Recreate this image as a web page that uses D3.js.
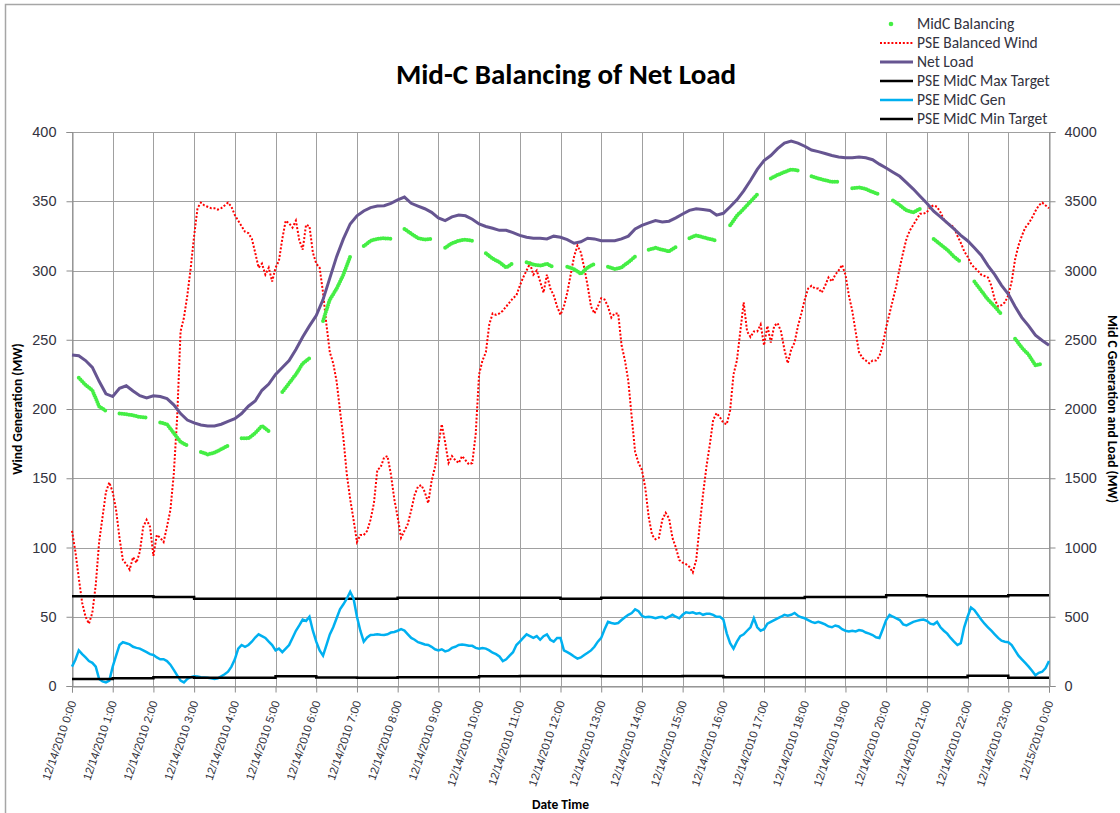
<!DOCTYPE html>
<html>
<head>
<meta charset="utf-8">
<script src="https://cdn.jsdelivr.net/npm/d3@7"></script>
<style>
  body { margin: 0; background: #fff; }
  svg { display: block; font-family: Carlito, Calibri, Lato, sans-serif; }
</style>
</head>
<body>
<div id="chart"></div>
<script>
// series names, same order as the legend
var seriesNames = ["MidC Balancing", "PSE Balanced Wind", "Net Load",
  "PSE MidC Max Target", "PSE MidC Gen", "PSE MidC Min Target"];

// PSE Balanced Wind (MW, left axis), every 5 minutes from 12/14/2010 0:00
var windMW = [
  112, 97, 78, 60, 50, 45, 53, 73, 104, 122, 140, 147,
  140, 127, 107, 91, 88, 84, 93, 89, 97, 115, 120, 115,
  94, 109, 107, 104, 115, 127, 153, 194, 256, 266, 282, 302,
  325, 345, 349, 347, 346, 345, 345, 344, 345, 347, 349, 346,
  340, 336, 332, 328, 327, 323, 313, 302, 305, 297, 302, 292,
  302, 307, 323, 336, 334, 331, 336, 322, 315, 333, 332, 313,
  305, 302, 284, 261, 241, 233, 220, 199, 179, 153, 135, 120,
  104, 109, 109, 112, 120, 132, 156, 158, 165, 166, 153, 135,
  122, 107, 112, 117, 127, 138, 144, 145, 140, 132, 148, 158,
  174, 189, 176, 161, 166, 163, 161, 166, 163, 160, 161, 182,
  225, 235, 241, 261, 269, 268, 269, 271, 274, 277, 280, 282,
  289, 295, 300, 305, 297, 300, 292, 284, 297, 287, 282, 274,
  268, 274, 284, 297, 310, 318, 313, 302, 289, 274, 269, 274,
  280, 279, 274, 266, 269, 269, 246, 235, 220, 194, 169, 161,
  156, 143, 122, 109, 106, 107, 120, 125, 121, 107, 100, 91,
  89, 88, 86, 82, 91, 115, 138, 158, 174, 192, 197, 194,
  190, 189, 199, 225, 235, 256, 277, 256, 252, 256, 256, 261,
  246, 260, 248, 260, 262, 256, 243, 233, 243, 248, 260, 269,
  279, 287, 289, 287, 287, 284, 289, 295, 292, 297, 300, 304,
  297, 282, 271, 256, 241, 237, 235, 233, 235, 235, 238, 246,
  259, 269, 279, 289, 302, 313, 323, 329, 333, 337, 341, 341,
  342, 346, 347, 346, 342, 337, 334, 333, 331, 325, 320, 314,
  310, 305, 302, 300, 297, 296, 295, 289, 279, 274, 275, 277,
  282, 292, 308, 318, 325, 331, 334, 338, 343, 347, 349, 347,
  345
];

// PSE MidC Gen (MW, right axis), every 5 minutes
var midcGen = [
  140, 190, 257, 230, 206, 180, 167, 140, 50, 33, 26, 39,
  140, 219, 296, 316, 309, 300, 283, 275, 270, 257, 244, 230,
  224, 206, 193, 193, 180, 154, 116, 77, 39, 26, 51, 64,
  70, 68, 64, 62, 59, 55, 51, 55, 70, 85, 103, 140,
  193, 270, 296, 283, 296, 320, 350, 373, 360, 347, 320, 296,
  257, 270, 244, 270, 296, 347, 399, 437, 480, 470, 500, 399,
  320, 257, 219, 296, 373, 424, 489, 553, 590, 630, 680, 630,
  500, 399, 320, 350, 368, 370, 373, 370, 368, 373, 386, 390,
  399, 410, 400, 373, 347, 334, 316, 309, 300, 296, 283, 265,
  257, 265, 250, 257, 275, 283, 296, 300, 296, 290, 290, 275,
  270, 275, 270, 257, 240, 230, 213, 180, 193, 219, 244, 296,
  320, 347, 373, 360, 347, 360, 334, 360, 373, 334, 320, 347,
  347, 257, 244, 230, 213, 198, 206, 224, 240, 257, 283, 320,
  347, 410, 463, 455, 450, 455, 476, 496, 514, 527, 553, 540,
  507, 496, 500, 496, 489, 496, 500, 489, 500, 514, 500, 489,
  514, 532, 527, 532, 522, 527, 514, 522, 522, 514, 500, 500,
  480, 380, 309, 270, 320, 360, 373, 399, 424, 489, 424, 399,
  410, 450, 463, 476, 489, 500, 514, 507, 514, 527, 507, 496,
  489, 476, 463, 455, 463, 455, 445, 430, 424, 437, 430, 410,
  399, 394, 399, 394, 404, 399, 386, 378, 368, 352, 347, 410,
  476, 514, 500, 489, 476, 445, 437, 450, 463, 470, 476, 480,
  470, 450, 445, 463, 424, 399, 378, 347, 320, 296, 309, 424,
  500, 566, 548, 514, 480, 450, 424, 399, 373, 347, 327, 320,
  316, 296, 257, 219, 193, 167, 140, 110, 77, 95, 103, 129,
  180
];

// Net Load (MW, right axis), every 10 minutes
var netLoad = [
  2390, 2385, 2350, 2300, 2200, 2110,
  2090, 2150, 2168, 2130, 2096, 2080,
  2096, 2090, 2075, 2030, 1967, 1920,
  1900, 1885, 1878, 1878, 1890, 1910,
  1930, 1967, 2020, 2058, 2135, 2180,
  2250, 2300, 2350, 2430, 2520, 2600,
  2675, 2790, 2945, 3100, 3228, 3336,
  3395, 3430, 3454, 3465, 3468, 3485,
  3510, 3530, 3485, 3465, 3446, 3420,
  3380, 3360, 3387, 3400, 3395, 3370,
  3336, 3318, 3305, 3290, 3290, 3274,
  3254, 3240, 3233, 3233, 3228, 3248,
  3240, 3223, 3197, 3207, 3233, 3228,
  3215, 3215, 3215, 3228, 3248, 3300,
  3326, 3344, 3360, 3350, 3356, 3380,
  3408, 3434, 3446, 3440, 3434, 3400,
  3413, 3460, 3510, 3575, 3650, 3730,
  3794, 3830, 3880, 3920, 3935, 3920,
  3897, 3870, 3858, 3845, 3830, 3820,
  3814, 3814, 3820, 3814, 3800, 3768,
  3740, 3710, 3680, 3634, 3588, 3536,
  3485, 3428, 3387, 3344, 3300, 3254,
  3215, 3164, 3110, 3035, 2970, 2893,
  2830, 2740, 2660, 2600, 2533, 2495,
  2460
];

// MidC Balancing (MW, right axis), every 10 minutes, no value on the hour
var midcBalancing = [
  null, 2225, 2173, 2135, 2019, 1986,
  null, 1968, 1962, 1955, 1942, 1937,
  null, 1903, 1890, 1826, 1762, 1736,
  null, 1690, 1672, 1685, 1710, 1736,
  null, 1788, 1788, 1826, 1878, 1839,
  null, 2122, 2186, 2250, 2328, 2366,
  null, 2636, 2790, 2868, 2970, 3100,
  null, 3176, 3215, 3228, 3233, 3228,
  null, 3300, 3266, 3233, 3223, 3228,
  null, 3164, 3197, 3215, 3223, 3215,
  null, 3125, 3086, 3060, 3022, 3053,
  null, 3060, 3043, 3035, 3048, 3022,
  null, 3027, 3010, 2976, 3022, 3048,
  null, 3027, 3010, 3022, 3060, 3100,
  null, 3150, 3164, 3150, 3138, 3170,
  null, 3233, 3254, 3240, 3228, 3215,
  null, 3326, 3395, 3446, 3498, 3550,
  null, 3665, 3690, 3710, 3730, 3722,
  null, 3680, 3665, 3652, 3640, 3640,
  null, 3593, 3600, 3588, 3567, 3550,
  null, 3506, 3472, 3434, 3420, 3446,
  null, 3228, 3189, 3150, 3100, 3060,
  null, 2920, 2855, 2790, 2740, 2683,
  null, 2508, 2443, 2392, 2315, 2328,
  null
];

// hourly targets (MW, right axis)
var maxTarget = [648, 648, 643, 630, 630, 630, 630, 630, 638, 638, 638, 638,
  630, 638, 638, 638, 635, 635, 643, 643, 656, 648, 648, 656];
var minTarget = [51, 56, 64, 59, 59, 70, 62, 59, 64, 64, 70, 72,
  72, 70, 70, 72, 64, 64, 64, 64, 64, 64, 74, 59];

var leftTicks = [0, 50, 100, 150, 200, 250, 300, 350, 400];
var rightTicks = [0, 500, 1000, 1500, 2000, 2500, 3000, 3500, 4000];

var width = 1120, height = 813;
var plot = { left: 72, right: 1049, top: 132, bottom: 686 };
var start = new Date(2010, 11, 14, 0, 0);
var end = new Date(2010, 11, 15, 0, 0);

function at(stepMin) {
  // turn a regular series into {t, v} points
  return function(v, i) { return { t: new Date(start.getTime() + i * stepMin * 60000), v: v }; };
}
function hourly(arr) {
  var pts = arr.map(at(60));
  pts.push({ t: end, v: arr[arr.length - 1] });
  return pts;
}

var x = d3.scaleTime().domain([start, end]).range([plot.left, plot.right]);
var yL = d3.scaleLinear().domain([0, 400]).range([plot.bottom, plot.top]);
var yR = d3.scaleLinear().domain([0, 4000]).range([plot.bottom, plot.top]);

var svg = d3.select("#chart").append("svg")
  .attr("width", width)
  .attr("height", height);

// chart frame
svg.append("rect")
  .attr("x", 5.5).attr("y", 4.5)
  .attr("width", 1140).attr("height", 840)
  .attr("fill", "#fff")
  .attr("stroke", "#a6a6a6")
  .attr("stroke-width", 1.5);

// grid
var hours = d3.timeHour.range(start, d3.timeHour.offset(end, 1));
svg.append("g").selectAll("line")
  .data(leftTicks)
  .join("line")
  .attr("x1", plot.left).attr("x2", plot.right)
  .attr("y1", (d) => Math.round(yL(d)) + 0.5)
  .attr("y2", (d) => Math.round(yL(d)) + 0.5)
  .attr("stroke", "#a0a0a0");
svg.append("g").selectAll("line")
  .data(hours)
  .join("line")
  .attr("x1", (d) => Math.round(x(d)) + 0.5)
  .attr("x2", (d) => Math.round(x(d)) + 0.5)
  .attr("y1", plot.top).attr("y2", plot.bottom)
  .attr("stroke", "#a0a0a0");

// axes
var tickColor = "#333340";
var axisL = svg.append("g")
  .attr("transform", `translate(${plot.left + 0.5},0)`)
  .call(d3.axisLeft(yL).tickValues(leftTicks).tickSize(6).tickPadding(10));
var axisR = svg.append("g")
  .attr("transform", `translate(${plot.right + 0.5},0)`)
  .call(d3.axisRight(yR).tickValues(rightTicks).tickSize(6).tickPadding(9)
    .tickFormat(d3.format("d")));
var axisB = svg.append("g")
  .attr("transform", `translate(0,${plot.bottom + 0.5})`)
  .call(d3.axisBottom(x).tickValues(hours).tickSize(6)
    .tickFormat(d3.timeFormat("%m/%d/%Y %-H:%M")));

[axisL, axisR, axisB].forEach(function(g) {
  g.select(".domain").attr("stroke", "#8c8c8c");
  g.selectAll(".tick line").attr("stroke", "#8c8c8c");
  g.selectAll("text")
    .attr("fill", tickColor)
    .style("font-size", "14.5px");
});
axisB.selectAll("text")
  .style("font-size", "11.5px")
  .attr("text-anchor", "end")
  .attr("dy", null)
  .attr("y", 0)
  .attr("transform", "translate(4,16) rotate(-71)");

// series
var lineL = d3.line().x((d) => x(d.t)).y((d) => yL(d.v));
var lineR = d3.line().x((d) => x(d.t)).y((d) => yR(d.v)).defined((d) => d.v != null);

var plotG = svg.append("g");

plotG.append("path")
  .datum(windMW.map(at(5)))
  .attr("d", lineL)
  .attr("fill", "none")
  .attr("stroke", "#ff0000")
  .attr("stroke-width", 2)
  .attr("stroke-dasharray", "2 1.8");

plotG.append("path")
  .datum(midcBalancing.map(at(10)))
  .attr("d", lineR)
  .attr("fill", "none")
  .attr("stroke", "#44ee44")
  .attr("stroke-width", 4)
  .attr("stroke-linecap", "round")
  .attr("stroke-dasharray", "0 2.4");

plotG.append("path")
  .datum(netLoad.map(at(10)))
  .attr("d", lineR)
  .attr("fill", "none")
  .attr("stroke", "#665591")
  .attr("stroke-width", 3);

var stepLine = d3.line().x((d) => x(d.t)).y((d) => yR(d.v)).curve(d3.curveStepAfter);
plotG.append("path")
  .datum(hourly(maxTarget))
  .attr("d", stepLine)
  .attr("fill", "none")
  .attr("stroke", "#000")
  .attr("stroke-width", 2.5);

plotG.append("path")
  .datum(midcGen.map(at(5)))
  .attr("d", lineR)
  .attr("fill", "none")
  .attr("stroke", "#00b0f0")
  .attr("stroke-width", 2.5);

plotG.append("path")
  .datum(hourly(minTarget))
  .attr("d", stepLine)
  .attr("fill", "none")
  .attr("stroke", "#000")
  .attr("stroke-width", 2.5);

// titles
svg.append("text")
  .attr("x", 566).attr("y", 84)
  .attr("text-anchor", "middle")
  .attr("font-size", "29px")
  .attr("font-weight", "bold")
  .attr("fill", "#000")
  .text("Mid-C Balancing of Net Load");

svg.append("text")
  .attr("transform", `translate(22,${(plot.top + plot.bottom) / 2}) rotate(-90)`)
  .attr("text-anchor", "middle")
  .attr("font-size", "13.5px")
  .attr("font-weight", "bold")
  .text("Wind Generation (MW)");

svg.append("text")
  .attr("transform", `translate(1108,${(plot.top + plot.bottom) / 2}) rotate(90)`)
  .attr("text-anchor", "middle")
  .attr("font-size", "13.5px")
  .attr("font-weight", "bold")
  .text("Mid C Generation and Load (MW)");

svg.append("text")
  .attr("x", (plot.left + plot.right) / 2).attr("y", 809)
  .attr("text-anchor", "middle")
  .attr("font-size", "13.5px")
  .attr("font-weight", "bold")
  .text("Date Time");

// legend
var legendStyles = [
  { stroke: "#44ee44", dot: true },
  { stroke: "#ff0000", width: 2, dash: "2 1.8" },
  { stroke: "#665591", width: 3 },
  { stroke: "#000", width: 2.5 },
  { stroke: "#00b0f0", width: 2.5 },
  { stroke: "#000", width: 2.5 }
];
var legend = svg.append("g")
  .selectAll("g")
  .data(seriesNames)
  .join("g")
  .attr("transform", (d, i) => `translate(880,${24 + i * 19})`);

legend.each(function(d, i) {
  var g = d3.select(this), s = legendStyles[i];
  if (s.dot) {
    g.append("circle").attr("cx", 11).attr("cy", 0).attr("r", 2.3).attr("fill", s.stroke);
  } else {
    g.append("line")
      .attr("x1", 0).attr("x2", 33)
      .attr("stroke", s.stroke)
      .attr("stroke-width", s.width)
      .attr("stroke-dasharray", s.dash || null);
  }
});
legend.append("text")
  .attr("x", 37).attr("y", 5)
  .attr("font-size", "15.5px")
  .attr("fill", tickColor)
  .text((d) => d);
</script>
</body>
</html>
